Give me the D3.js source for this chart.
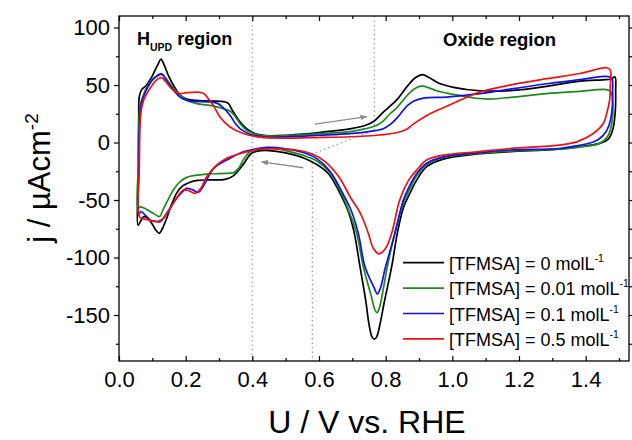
<!DOCTYPE html>
<html>
<head>
<meta charset="utf-8">
<script src="https://cdn.jsdelivr.net/npm/d3@7"></script>
<style>
  body { margin: 0; background: #fff; }
  svg { display: block; }
  text { font-family: "Liberation Sans", Arial, sans-serif; fill: #000; }
</style>
</head>
<body>
<script>
// axis ticks
var uMajor = [0.0, 0.2, 0.4, 0.6, 0.8, 1.0, 1.2, 1.4],
    uMinor = [0.1, 0.3, 0.5, 0.7, 0.9, 1.1, 1.3, 1.5],
    jMajor = [-150, -100, -50, 0, 50, 100],
    jMinor = [-175, -125, -75, -25, 25, 75];

// legend labels (superscript added separately)
var seriesLabels = ["[TFMSA] = 0 molL", "[TFMSA] = 0.01 molL", "[TFMSA] = 0.1 molL", "[TFMSA] = 0.5 molL"];

// cyclic voltammograms [U (V vs RHE), j (µA cm-2)], anodic sweep then cathodic sweep
var cv0 = [[0.057,-72],[0.058,-30],[0.059,20],[0.061,40],[0.068,46],[0.08,49],[0.1,58],[0.117,68],[0.126,72.5],[0.136,67],[0.15,57],[0.165,49],[0.183,41.5],[0.205,37.5],[0.24,36.5],[0.28,36],[0.315,35.5],[0.328,34],[0.34,28],[0.363,18],[0.385,11.5],[0.41,7.5],[0.44,6],[0.5,6.2],[0.55,7.3],[0.6,8.7],[0.65,10.3],[0.7,12.3],[0.74,15],[0.765,18.5],[0.793,26.5],[0.833,37],[0.865,49],[0.89,56.5],[0.911,59],[0.93,56.5],[0.96,51.5],[1.003,48],[1.083,45],[1.183,45.3],[1.283,48.8],[1.383,53.4],[1.45,54.5],[1.475,55],[1.488,57],[1.49,45],[1.489,28],[1.482,12],[1.468,3],[1.445,-0.5],[1.40,-3],[1.35,-5],[1.3,-6.3],[1.173,-8],[1.073,-10],[0.973,-14.5],[0.923,-21],[0.893,-32.7],[0.873,-44],[0.853,-57],[0.835,-79],[0.818,-108],[0.795,-140],[0.783,-158],[0.773,-169],[0.766,-171],[0.759,-169],[0.75,-158],[0.74,-137],[0.723,-108],[0.706,-79],[0.688,-60],[0.668,-47],[0.628,-27],[0.593,-19],[0.55,-13],[0.5,-9],[0.45,-7],[0.415,-7.5],[0.395,-10],[0.373,-19],[0.343,-29],[0.318,-32],[0.27,-32.5],[0.235,-33],[0.213,-34.5],[0.19,-38],[0.173,-44],[0.155,-56],[0.143,-66],[0.13,-75],[0.121,-79],[0.11,-76],[0.1,-71],[0.085,-65.5],[0.073,-64.5],[0.064,-69]];

var cv001 = [[0.057,-57],[0.058,-20],[0.06,20],[0.064,33],[0.073,41],[0.085,49],[0.1,55],[0.115,58],[0.128,59],[0.14,56],[0.153,51],[0.173,44],[0.203,36.7],[0.233,33.8],[0.273,32.3],[0.313,29.5],[0.335,27],[0.35,22],[0.363,16.5],[0.383,10.7],[0.413,7],[0.443,5.7],[0.5,5.8],[0.6,7.5],[0.693,9.5],[0.74,12],[0.77,14.5],[0.79,18],[0.813,25],[0.833,30],[0.853,37],[0.875,44],[0.895,48],[0.911,49],[0.93,47.5],[0.953,45],[0.99,42.5],[1.033,40.4],[1.07,38.5],[1.113,37.8],[1.183,39.5],[1.283,42.5],[1.383,44.5],[1.463,46],[1.476,44],[1.481,35],[1.481,24],[1.475,12],[1.463,4],[1.44,-1],[1.38,-4],[1.32,-5.8],[1.173,-7.5],[1.073,-9.5],[0.973,-13],[0.923,-19],[0.893,-29],[0.873,-40],[0.853,-53],[0.833,-72],[0.805,-108],[0.788,-135],[0.78,-145],[0.774,-148],[0.767,-145],[0.758,-135],[0.733,-108],[0.713,-79],[0.69,-60],[0.673,-48],[0.633,-26],[0.593,-16],[0.55,-11],[0.5,-7],[0.45,-5],[0.41,-6],[0.393,-8],[0.373,-15],[0.36,-22],[0.345,-26],[0.303,-27],[0.263,-27.5],[0.203,-30.3],[0.18,-35],[0.163,-41.3],[0.145,-51],[0.133,-58],[0.121,-64.5],[0.108,-62.5],[0.093,-60],[0.075,-57],[0.064,-56]];

var cv01 = [[0.059,-63],[0.06,-20],[0.062,20],[0.066,32],[0.073,39.5],[0.09,50],[0.11,57],[0.128,59.8],[0.14,55],[0.153,49.7],[0.168,44],[0.183,39.5],[0.2,37],[0.223,35.8],[0.273,35.2],[0.295,34],[0.31,31],[0.333,23.7],[0.348,17],[0.363,12],[0.393,7.2],[0.443,4.6],[0.5,4.9],[0.6,6.3],[0.693,7.8],[0.75,9.5],[0.793,12],[0.815,16],[0.833,21],[0.85,27],[0.865,32],[0.885,36],[0.913,38.6],[0.983,39.5],[1.083,42.5],[1.183,46.8],[1.283,51.1],[1.383,54.6],[1.458,57.5],[1.478,56],[1.481,45],[1.479,28],[1.47,15],[1.46,9],[1.44,3],[1.423,0.5],[1.373,-2.9],[1.32,-5.2],[1.173,-6.5],[1.073,-9],[0.973,-12.5],[0.923,-18],[0.893,-27],[0.873,-37],[0.853,-50],[0.828,-79],[0.798,-110],[0.785,-126],[0.775,-131.7],[0.765,-126],[0.738,-108],[0.718,-79],[0.695,-58],[0.678,-48],[0.633,-25],[0.593,-14],[0.55,-8.5],[0.5,-5.5],[0.443,-4.3],[0.405,-6],[0.373,-8.1],[0.323,-15.3],[0.29,-21],[0.273,-27],[0.255,-37],[0.238,-43.3],[0.22,-41],[0.203,-39.9],[0.19,-43],[0.173,-48.5],[0.143,-61.5],[0.123,-68.8],[0.108,-68.5],[0.093,-67.3],[0.075,-62],[0.065,-60]];

var cv05 = [[0.06,-64],[0.061,-20],[0.064,20],[0.07,33],[0.078,39.5],[0.1,50],[0.115,55],[0.128,56.3],[0.14,53],[0.153,48.2],[0.17,44],[0.183,42.5],[0.203,43.3],[0.238,43.8],[0.255,42.5],[0.268,38],[0.283,32.3],[0.303,22.2],[0.333,13.5],[0.373,7.8],[0.423,4.6],[0.5,3.8],[0.573,4.3],[0.693,5],[0.773,6.3],[0.833,8.5],[0.86,11],[0.883,16],[0.933,25],[0.983,31.5],[1.033,38],[1.083,44],[1.183,50.5],[1.283,55.5],[1.383,60],[1.463,65],[1.474,63],[1.474,50],[1.472,37],[1.463,25],[1.453,16.5],[1.423,7.8],[1.373,0.5],[1.32,-2.3],[1.173,-5.2],[1.073,-8.1],[0.973,-11],[0.923,-15.3],[0.893,-24],[0.873,-31],[0.853,-42],[0.84,-52],[0.818,-79],[0.8,-92],[0.78,-96.8],[0.763,-92],[0.748,-79],[0.725,-62],[0.695,-48],[0.66,-30],[0.62,-17],[0.58,-10],[0.53,-6.5],[0.47,-5.5],[0.42,-6],[0.383,-8.1],[0.333,-12.5],[0.31,-16],[0.293,-19.7],[0.263,-29.8],[0.245,-40],[0.228,-44.2],[0.21,-42],[0.193,-41.3],[0.178,-46],[0.163,-52.9],[0.133,-65.9],[0.113,-68.8],[0.088,-67.3],[0.068,-65.9]];

var allCurves = [cv0, cv001, cv01, cv05];

// dotted guide lines and sweep-direction arrows, in data units
var guideLeft = [[0.4, 110], [0.4, -190]],
    guideRight = [[0.766, 110], [0.766, 11], [0.58, -10], [0.58, -190]],
    arrowAnodic = [[0.588, 16], [0.743, 22.5]],
    arrowCathodic = [[0.553, -22], [0.428, -16.8]];

var width = 632, height = 440,
    margin = {top: 16, right: 3, bottom: 79, left: 119};

var svg = d3.select("body").append("svg")
    .attr("width", width)
    .attr("height", height);

var x = d3.scaleLinear().domain([0, 1.53]).range([margin.left, width - margin.right]);
var y = d3.scaleLinear().domain([-190, 110]).range([height - margin.bottom, margin.top]);

var color = d3.scaleOrdinal()
    .domain(d3.range(4))
    .range(["#000000", "#1b8a1b", "#1010f0", "#f01010"]);

var line = d3.line()
    .x(function(d){ return x(d[0]); })
    .y(function(d){ return y(d[1]); });

//guides
svg.selectAll(".guide")
    .data([guideLeft, guideRight])
    .enter()
    .append("path")
    .attr("class", "guide")
    .attr("d", line)
    .attr("fill", "none")
    .attr("stroke", "#9a9a9a")
    .attr("stroke-width", 1.3)
    .attr("stroke-dasharray", "1.3,3.2");

//arrows
svg.append("defs").append("marker")
    .attr("id", "head")
    .attr("viewBox", "0 0 10 10")
    .attr("refX", 9).attr("refY", 5)
    .attr("markerWidth", 7).attr("markerHeight", 7)
    .attr("markerUnits", "userSpaceOnUse")
    .attr("orient", "auto")
    .append("path")
    .attr("d", "M0,1L10,5L0,9Z")
    .attr("fill", "#8c8c8c");

svg.selectAll(".arrow")
    .data([arrowAnodic, arrowCathodic])
    .enter()
    .append("path")
    .attr("class", "arrow")
    .attr("d", line)
    .attr("stroke", "#8c8c8c")
    .attr("stroke-width", 1.4)
    .attr("marker-end", "url(#head)");

//voltammograms
var loop = d3.line()
    .x(function(d){ return x(d[0]); })
    .y(function(d){ return y(d[1]); })
    .curve(d3.curveCatmullRomClosed.alpha(0.5));

svg.selectAll(".cv")
    .data(allCurves)
    .enter()
    .append("path")
    .attr("class", "cv")
    .attr("d", loop)
    .attr("fill", "none")
    .attr("stroke", function(d, i){ return color(i); })
    .attr("stroke-width", 1.7)
    .attr("stroke-linejoin", "round");

//frame
svg.append("rect")
    .attr("x", x(0)).attr("y", y(110))
    .attr("width", x(1.53) - x(0))
    .attr("height", y(-190) - y(110))
    .attr("fill", "none")
    .attr("stroke", "#000")
    .attr("stroke-width", 1.3);

function strip(g){
    g.select(".domain").remove();
    g.selectAll("line").attr("stroke-width", 1.2);
}

//bottom axis, ticks pointing in
svg.append("g")
    .attr("transform", "translate(0," + y(-190) + ")")
    .call(d3.axisBottom(x).tickValues(uMajor).tickSizeInner(-5).tickSizeOuter(0)
        .tickPadding(10).tickFormat(d3.format(".1f")))
    .call(strip)
    .selectAll("text").attr("font-size", 22).attr("font-family", null);
svg.append("g")
    .attr("transform", "translate(0," + y(-190) + ")")
    .call(d3.axisBottom(x).tickValues(uMinor).tickSizeInner(-3).tickSizeOuter(0).tickFormat(""))
    .call(strip);

//top axis
svg.append("g")
    .attr("transform", "translate(0," + y(110) + ")")
    .call(d3.axisTop(x).tickValues(uMajor).tickSizeInner(-5).tickSizeOuter(0).tickFormat(""))
    .call(strip);
svg.append("g")
    .attr("transform", "translate(0," + y(110) + ")")
    .call(d3.axisTop(x).tickValues(uMinor).tickSizeInner(-3).tickSizeOuter(0).tickFormat(""))
    .call(strip);

//left axis, ticks pointing out
svg.append("g")
    .attr("transform", "translate(" + x(0) + ",0)")
    .call(d3.axisLeft(y).tickValues(jMajor).tickSizeInner(5).tickSizeOuter(0)
        .tickPadding(4).tickFormat(function(d){ return String(d); }))
    .call(strip)
    .selectAll("text").attr("font-size", 22).attr("font-family", null);
svg.append("g")
    .attr("transform", "translate(" + x(0) + ",0)")
    .call(d3.axisLeft(y).tickValues(jMinor).tickSizeInner(3).tickSizeOuter(0).tickFormat(""))
    .call(strip);

//right axis
svg.append("g")
    .attr("transform", "translate(" + x(1.53) + ",0)")
    .call(d3.axisRight(y).tickValues(jMajor).tickSizeInner(5).tickSizeOuter(0).tickFormat(""))
    .call(strip);
svg.append("g")
    .attr("transform", "translate(" + x(1.53) + ",0)")
    .call(d3.axisRight(y).tickValues(jMinor).tickSizeInner(3).tickSizeOuter(0).tickFormat(""))
    .call(strip);

//axis titles
svg.append("text")
    .attr("x", 367).attr("y", 433)
    .attr("text-anchor", "middle")
    .attr("font-size", 32)
    .text("U / V vs. RHE");

var yt = svg.append("text")
    .attr("transform", "translate(50,178) rotate(-90)")
    .attr("text-anchor", "middle")
    .attr("font-size", 31);
yt.append("tspan").text("j / \u00b5Acm");
yt.append("tspan").attr("dy", -12).attr("font-size", 19).text("-2");

//region labels
var hl = svg.append("text")
    .attr("x", x(0.054)).attr("y", y(85))
    .attr("font-size", 18).attr("font-weight", "bold");
hl.append("tspan").text("H");
hl.append("tspan").attr("dy", 6).attr("font-size", 10.5).text("UPD");
hl.append("tspan").attr("dy", -6).text(" region");

svg.append("text")
    .attr("x", x(0.972)).attr("y", y(84.3))
    .attr("font-size", 18.5).attr("font-weight", "bold")
    .text("Oxide region");

//legend
var legend = svg.selectAll(".legend")
    .data(seriesLabels)
    .enter()
    .append("g")
    .attr("class", "legend")
    .attr("transform", function(d, i){ return "translate(403," + (262.7 + i * 25.4) + ")"; });

legend.append("line")
    .attr("x1", 0).attr("x2", 41)
    .attr("stroke", function(d, i){ return color(i); })
    .attr("stroke-width", 1.7);

var lt = legend.append("text")
    .attr("x", 46).attr("y", 7)
    .attr("font-size", 18);
lt.append("tspan").text(function(d){ return d; });
lt.append("tspan").attr("dy", -8).attr("font-size", 10.5).text("-1");
</script>
</body>
</html>
